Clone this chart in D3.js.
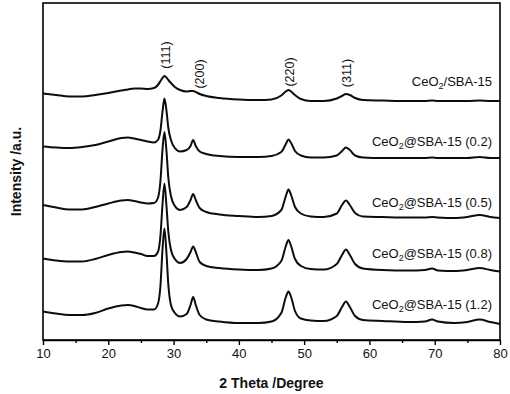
<!DOCTYPE html>
<html>
<head>
<meta charset="utf-8">
<script src="https://cdn.jsdelivr.net/npm/d3@7"></script>
<style>
  html, body { margin: 0; padding: 0; background: #fff; }
  svg { display: block; }
  text { font-family: "Liberation Sans", Arial, Helvetica, sans-serif; fill: #111; }
</style>
</head>
<body>
<svg id="chart" width="510" height="394"></svg>
<script>
// ---------- data ----------
const twoTheta = [10,12,14,16,18,20,22,23,24,25,26,27,27.6,28.0,28.3,28.6,28.9,29.2,29.6,30.2,31.0,32.0,32.6,33.0,33.4,34.0,35,37,40,43,45,46.5,47.2,47.6,48.0,48.6,49.5,51,53,55,55.8,56.4,57.0,57.8,59,62,66,68.5,69.6,70.5,73,75,76.9,78.5,80];

const seriesNames = ["CeO2/SBA-15", "CeO2@SBA-15 (0.2)", "CeO2@SBA-15 (0.5)", "CeO2@SBA-15 (0.8)", "CeO2@SBA-15 (1.2)"];

// stacked intensities (a.u.)
const intensityCeO2SBA = [246.5,245,243.5,243.5,245,247,249.5,250.5,251.5,251.5,251,252,255,259,262,264,262.5,260,257,253,250,248.5,249,249,248,246,244,242,240.5,240,240.5,244.5,248.5,250,248.5,245,241,239,239,241.5,244,246,245,242,240,239.5,239,239,239.5,239,239,239,239.5,239,239];
const intensity02 = [193.5,192.5,192,193,195,198.5,202,202.5,201.5,200,198.5,197.5,200,210,228,241.5,230,212,200,192,188.5,190,194,200,194,188.5,186,184,183,183,184,188,196,200.5,197,189,184.5,182.5,182.5,184.5,189,192.5,190,184.5,182.5,182,182,182,182.5,182,182,182,183,182,182];
const intensity05 = [135,132.5,130.5,130.5,133,136.5,139.5,140,139,137.5,136.5,137,142,160,190,208,190,162,144,134,130,133,140,146,140,132,128,125.5,124,123,124,130,144,150.5,145,133,126.5,123.5,123,126.5,135,139.5,135,127,123.5,123,122.5,122.5,123,122.5,122,123,125,123,122];
const intensity08 = [81.5,79.5,78.5,78.5,81,85,88,88.5,87.5,86,84,84,88,105,135,156.5,135,108,90,81,77,81,88,93.5,88,78,74,72,70.5,70,71.5,79,94,100,94,81,74,71,70.5,76,85,90.5,85,76,71.5,70,69.5,70,71.5,69.5,69,70,72,70,68.5];
const intensity12 = [28.5,26.5,25,25,27,31.5,34.5,35,34,32,30.5,30.5,36,55,90,111.5,88,55,35,27,23.5,26,35,43,35,25,20.5,18.5,17,17,18.5,27,43,48.5,43,29,21.5,19.5,19,24,33,38.5,33,24,20,19,18,18.5,20.5,18.5,17,18,20.5,18,16];

const peakLabels = ["(111)", "(200)", "(220)", "(311)"];
const peakAngles = [28.8, 33.9, 47.8, 56.5];

const xTicksMajor = [10, 20, 30, 40, 50, 60, 70, 80];
const xTicksMinor = [15, 25, 35, 45, 55, 65, 75];

const xTitle = "2 Theta /Degree";
const yTitle = "Intensity /a.u.";

// ---------- layout ----------
const W = 510, H = 394;
const m = { left: 43, right: 10, top: 3, bottom: 54 };
const svg = d3.select("#chart");

const x = d3.scaleLinear().domain([10, 80]).range([m.left, W - m.right]);
const y = d3.scaleLinear().domain([0, 337]).range([H - m.bottom, m.top]);

const allSeries = [intensityCeO2SBA, intensity02, intensity05, intensity08, intensity12];

// lines
const line = d3.line()
  .x((d, i) => x(twoTheta[i]))
  .y(d => y(d))
  .curve(d3.curveMonotoneX);

svg.append("g").selectAll("path")
  .data(allSeries)
  .join("path")
  .attr("d", line)
  .attr("fill", "none")
  .attr("stroke", "#0d0d0d")
  .attr("stroke-width", 2)
  .attr("stroke-linejoin", "round");

// frame
svg.append("rect")
  .attr("x", x(10)).attr("y", m.top)
  .attr("width", x(80) - x(10)).attr("height", y(0) - m.top)
  .attr("fill", "none").attr("stroke", "#000").attr("stroke-width", 1.6);

// x axis
const xAxis = d3.axisBottom(x).tickValues(xTicksMajor).tickSize(5).tickSizeOuter(0).tickPadding(4).tickFormat(d3.format("d"));
const gx = svg.append("g").attr("transform", `translate(0,${y(0)})`).call(xAxis);
gx.select(".domain").attr("stroke", "#000").attr("stroke-width", 1.6);
gx.selectAll(".tick line").attr("stroke", "#000").attr("stroke-width", 1.4);
gx.selectAll(".tick text").style("font-size", "13px").style("font-family", '"Liberation Sans", Arial, sans-serif').attr("fill", "#111");

const xMinor = d3.axisBottom(x).tickValues(xTicksMinor).tickSize(3).tickSizeOuter(0).tickFormat("");
const gxm = svg.append("g").attr("transform", `translate(0,${y(0)})`).call(xMinor);
gxm.select(".domain").remove();
gxm.selectAll(".tick line").attr("stroke", "#000").attr("stroke-width", 1.4);

// axis titles
svg.append("text")
  .attr("x", (x(10) + x(80)) / 2).attr("y", 388)
  .attr("text-anchor", "middle")
  .style("font-size", "14px").style("font-weight", "bold")
  .text(xTitle);

svg.append("text")
  .attr("transform", `translate(21,${(m.top + y(0)) / 2}) rotate(-90)`)
  .attr("text-anchor", "middle")
  .style("font-size", "14px").style("font-weight", "bold")
  .text(yTitle);

// peak labels (rotated)
const peakLabelY = [55, 74, 72, 73];
svg.append("g").selectAll("text")
  .data(peakLabels)
  .join("text")
  .attr("transform", (d, i) => `translate(${x(peakAngles[i]) + 4.5},${peakLabelY[i]}) rotate(-90)`)
  .attr("text-anchor", "middle")
  .style("font-size", "12.5px")
  .text(d => d);

// series labels with subscript
const labelBaselines = [86, 146, 207, 258, 309];
const lg = svg.append("g");
seriesNames.forEach((name, i) => {
  const t = lg.append("text")
    .attr("x", x(80) - 8).attr("y", labelBaselines[i])
    .attr("text-anchor", "end")
    .style("font-size", "13px");
  const rest = name.slice(4);
  t.append("tspan").text("CeO");
  t.append("tspan").attr("dy", 3).style("font-size", "9px").text("2");
  t.append("tspan").attr("dy", -3).text(rest);
});
</script>
</body>
</html>
